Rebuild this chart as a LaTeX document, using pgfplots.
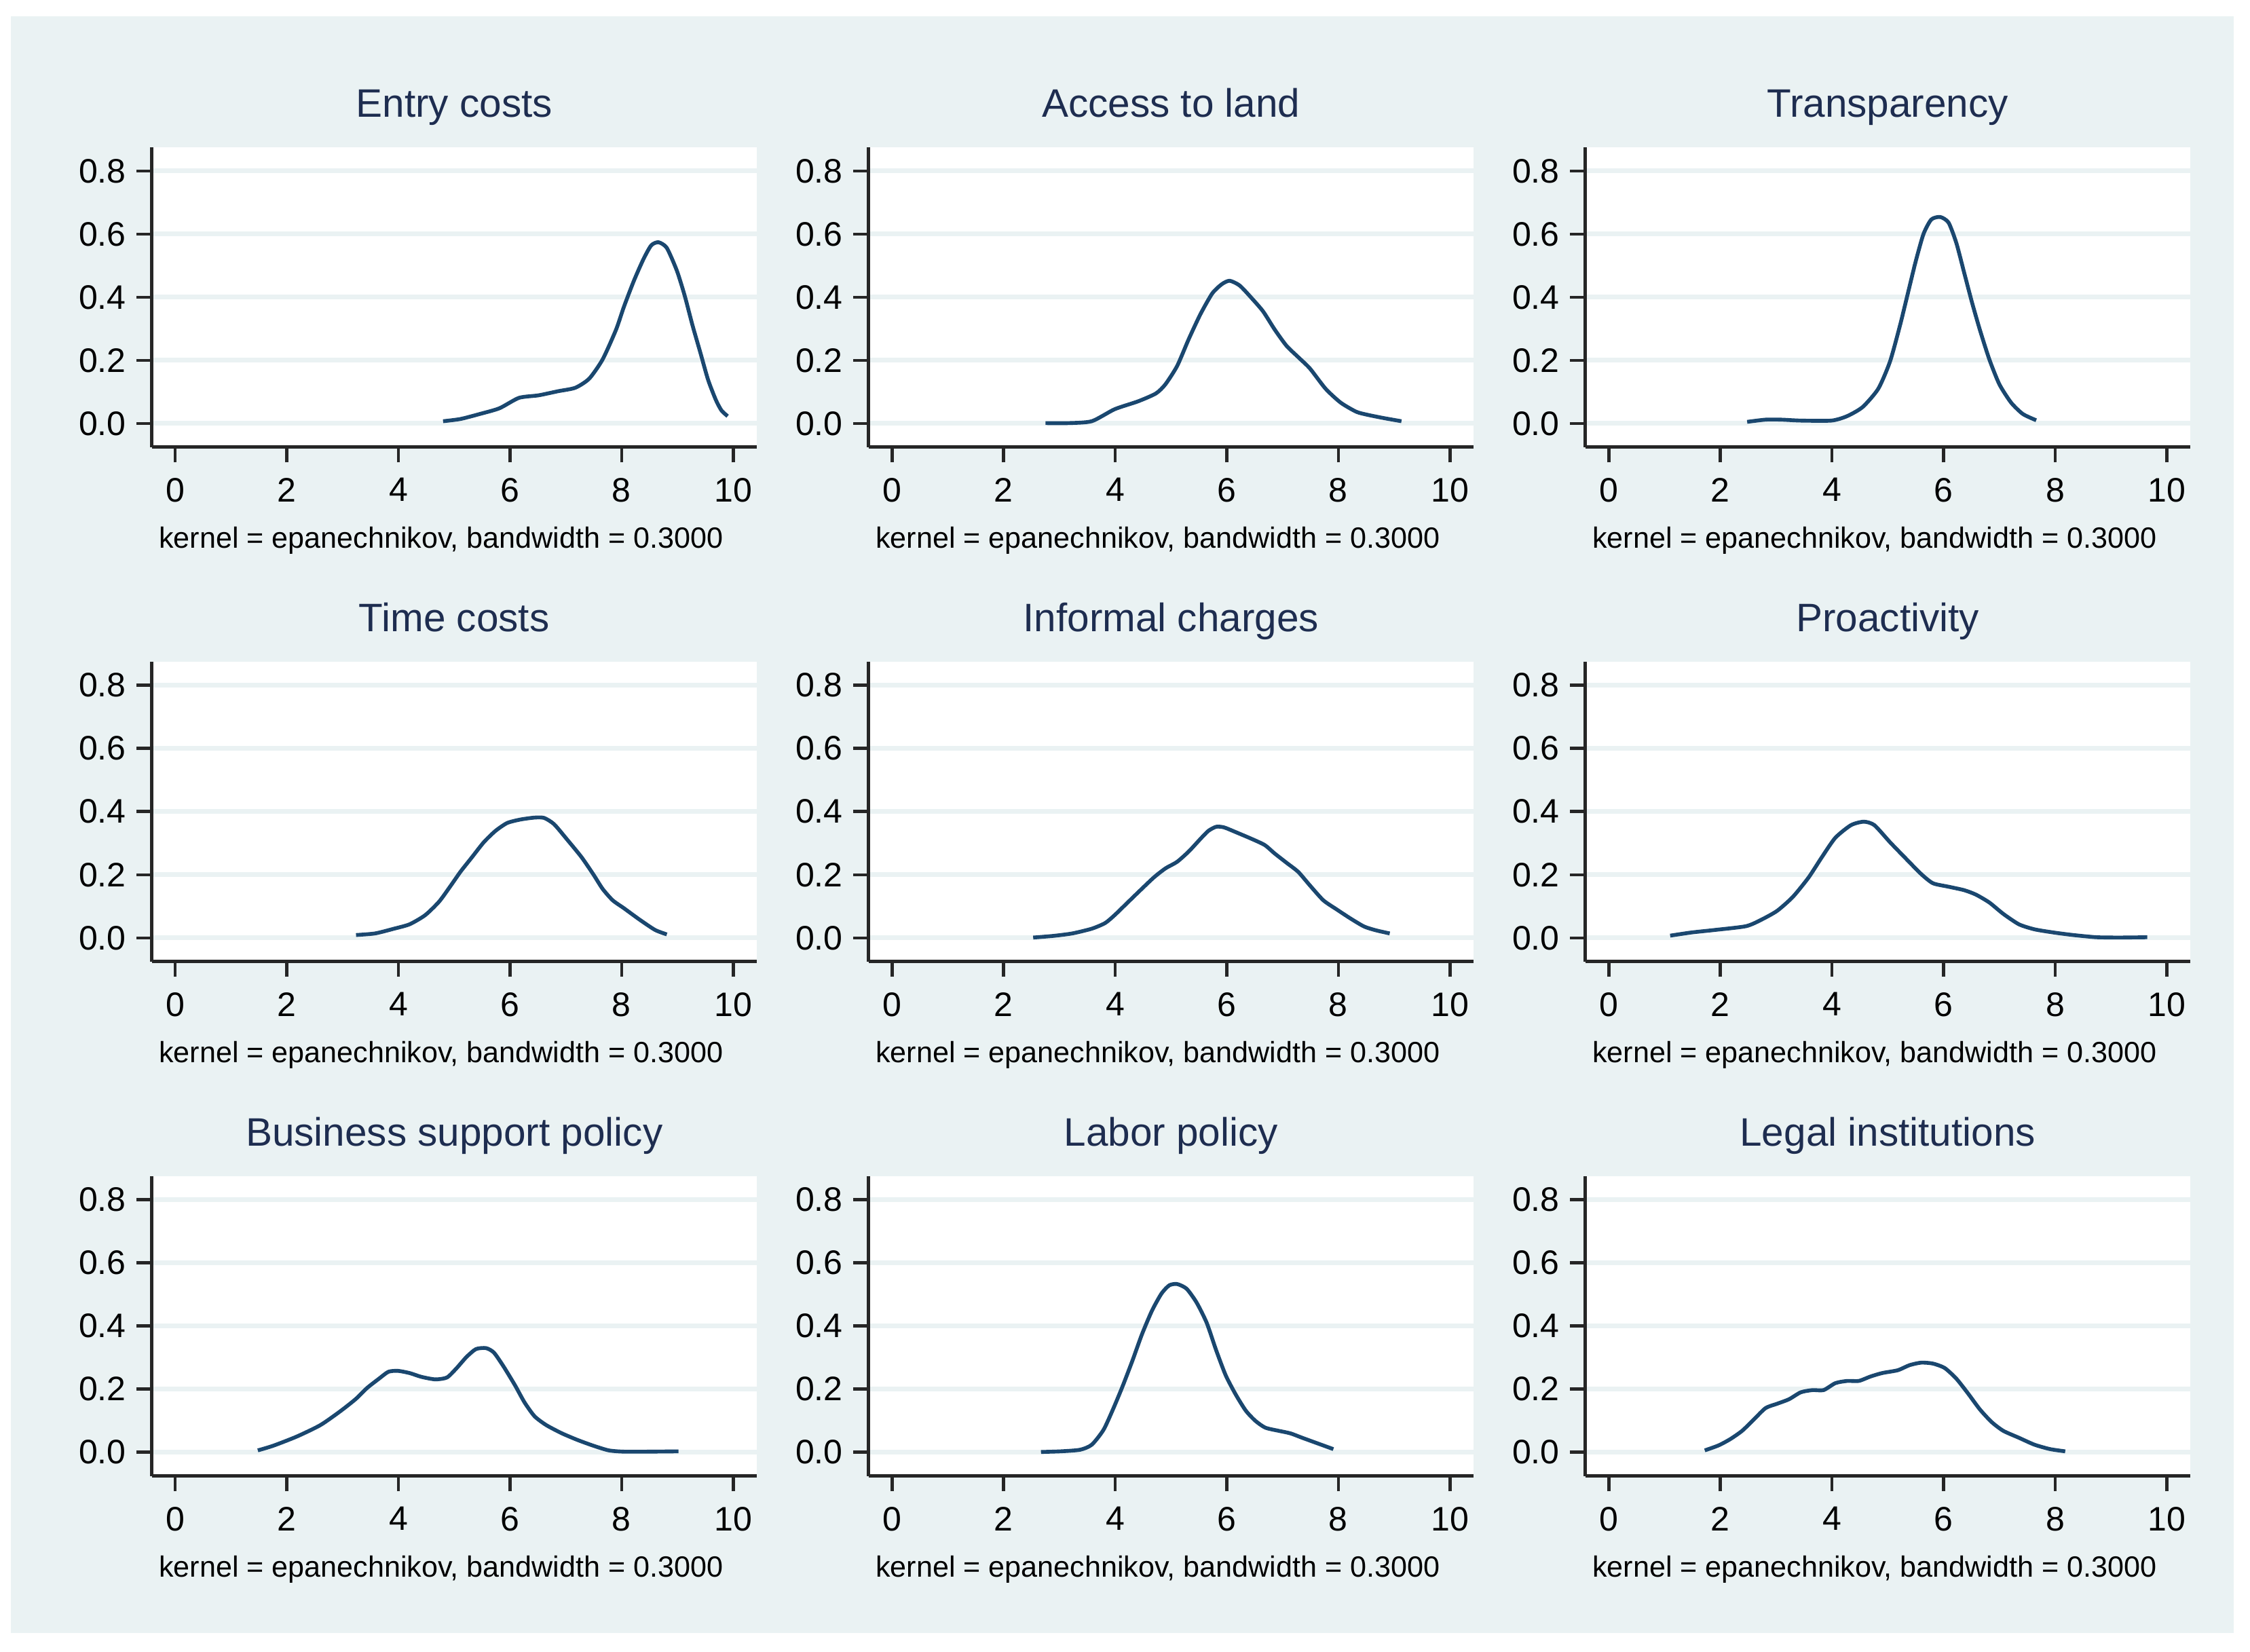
\documentclass[border=0pt]{standalone}
\usepackage{pgfplots}
\pgfplotsset{compat=1.18}
\usepackage{fontspec}
\setmainfont{Liberation Sans}
\definecolor{stbg}{RGB}{234,242,243}
\definecolor{stnavy}{RGB}{26,71,111}
\definecolor{sttitle}{RGB}{30,45,80}
\pgfplotsset{
  kd/.style={
    scale only axis, width=126.45pt, height=62.7pt,
    anchor=south west,
    xmin=-0.42, xmax=10.42, ymin=-0.075, ymax=0.875,
    xtick={0,2,4,6,8,10}, ytick={0,0.2,0.4,0.6,0.8},
    axis x line*=bottom, axis y line*=left,
    axis line style={black!85, line width=0.7pt, -},
    axis background/.style={fill=white},
    tick align=outside, major tick length=3.2pt,
    tick style={black!85, line width=0.65pt},
    ymajorgrids, grid style={stbg, line width=1pt},
    /pgf/number format/assume math mode=true,
    yticklabel={\pgfmathprintnumber[fixed,fixed zerofill,precision=1]{\tick}},
    xticklabel style={anchor=north, inner sep=0pt, font=\fontsize{7.1}{8}\selectfont},
    yticklabel style={anchor=east, inner sep=0pt, font=\fontsize{7.1}{8}\selectfont},
    xticklabel shift=3.1pt, yticklabel shift=2.0pt,
    clip=false,
  },
  kl/.style={stnavy, line width=0.8pt, smooth, tension=0.4, no markers}
}
\newcommand{\ptitle}[3]{\node[anchor=base, inner sep=0pt, text=sttitle, font=\fontsize{8.3}{10}\selectfont] at (#1pt,#2pt) {#3};}
\newcommand{\pnote}[2]{\node[anchor=base west, inner sep=0pt, font=\fontsize{6.12}{7}\selectfont] at (#1pt,#2pt) {kernel = epanechnikov, bandwidth = 0.3000};}
\begin{document}
\begin{tikzpicture}
\path[use as bounding box, fill=white] (0pt,0pt) rectangle (470.4pt,345.3pt);
\fill[stbg] (2.28pt,3.9pt) rectangle (466.95pt,341.85pt);

% Row 1
\begin{axis}[kd, at={(31.74pt,251.82pt)}]
\addplot[kl] coordinates {(4.80,0.007)(5.11,0.014)(5.46,0.030)(5.81,0.048)(6.16,0.081)(6.51,0.089)(6.86,0.102)(7.17,0.113)(7.42,0.142)(7.66,0.203)(7.90,0.297)(8.04,0.369)(8.22,0.452)(8.39,0.520)(8.53,0.564)(8.66,0.574)(8.81,0.556)(8.99,0.484)(9.13,0.405)(9.27,0.311)(9.41,0.225)(9.55,0.138)(9.69,0.074)(9.79,0.041)(9.90,0.023)};
\end{axis}
\begin{axis}[kd, at={(181.59pt,251.82pt)}]
\addplot[kl] coordinates {(2.75,0.001)(3.16,0.001)(3.58,0.007)(3.99,0.045)(4.41,0.070)(4.73,0.095)(4.90,0.124)(5.11,0.182)(5.32,0.268)(5.53,0.347)(5.74,0.412)(5.91,0.441)(6.05,0.452)(6.23,0.437)(6.44,0.398)(6.65,0.355)(6.86,0.297)(7.07,0.246)(7.28,0.210)(7.49,0.174)(7.77,0.110)(8.04,0.066)(8.32,0.037)(8.53,0.027)(8.81,0.017)(9.13,0.007)};
\end{axis}
\begin{axis}[kd, at={(331.44pt,251.82pt)}]
\addplot[kl] coordinates {(2.48,0.005)(2.81,0.012)(3.09,0.012)(3.44,0.009)(3.99,0.009)(4.27,0.023)(4.55,0.052)(4.83,0.110)(5.04,0.196)(5.22,0.311)(5.36,0.412)(5.50,0.513)(5.64,0.600)(5.78,0.646)(5.94,0.654)(6.09,0.636)(6.23,0.571)(6.37,0.477)(6.51,0.383)(6.65,0.297)(6.82,0.203)(7.00,0.124)(7.21,0.066)(7.42,0.030)(7.66,0.010)};
\end{axis}

% Row 2
\begin{axis}[kd, at={(31.74pt,144.27pt)}]
\addplot[kl] coordinates {(3.24,0.009)(3.58,0.014)(3.92,0.029)(4.20,0.043)(4.48,0.072)(4.73,0.115)(4.94,0.166)(5.11,0.209)(5.32,0.256)(5.53,0.303)(5.74,0.339)(5.95,0.364)(6.19,0.375)(6.44,0.381)(6.61,0.380)(6.79,0.360)(7.03,0.310)(7.28,0.256)(7.49,0.202)(7.66,0.155)(7.84,0.119)(8.04,0.094)(8.32,0.058)(8.60,0.025)(8.81,0.011)};
\end{axis}
\begin{axis}[kd, at={(181.59pt,144.27pt)}]
\addplot[kl] coordinates {(2.53,0.001)(2.88,0.006)(3.23,0.014)(3.58,0.029)(3.82,0.047)(3.99,0.072)(4.20,0.108)(4.41,0.144)(4.69,0.191)(4.90,0.220)(5.11,0.241)(5.32,0.274)(5.53,0.314)(5.67,0.339)(5.81,0.352)(5.95,0.350)(6.16,0.335)(6.44,0.314)(6.68,0.294)(6.86,0.267)(7.07,0.238)(7.28,0.209)(7.49,0.166)(7.73,0.119)(7.97,0.090)(8.22,0.061)(8.46,0.036)(8.67,0.024)(8.92,0.014)};
\end{axis}
\begin{axis}[kd, at={(331.44pt,144.27pt)}]
\addplot[kl] coordinates {(1.10,0.007)(1.48,0.017)(1.90,0.025)(2.46,0.037)(2.74,0.058)(3.02,0.086)(3.30,0.130)(3.58,0.191)(3.82,0.256)(4.06,0.317)(4.34,0.357)(4.57,0.368)(4.76,0.357)(5.04,0.303)(5.32,0.252)(5.60,0.202)(5.81,0.173)(6.09,0.162)(6.37,0.151)(6.58,0.137)(6.82,0.112)(7.07,0.076)(7.35,0.043)(7.63,0.027)(7.97,0.017)(8.32,0.009)(8.74,0.002)(9.16,0.001)(9.65,0.002)};
\end{axis}

% Row 3
\begin{axis}[kd, at={(31.74pt,36.72pt)}]
\addplot[kl] coordinates {(1.48,0.006)(1.76,0.021)(2.18,0.050)(2.60,0.086)(2.95,0.129)(3.23,0.168)(3.44,0.204)(3.65,0.233)(3.82,0.255)(3.99,0.258)(4.20,0.251)(4.41,0.239)(4.66,0.231)(4.87,0.237)(5.04,0.266)(5.22,0.302)(5.39,0.327)(5.57,0.330)(5.71,0.316)(5.88,0.273)(6.09,0.212)(6.26,0.158)(6.44,0.114)(6.65,0.086)(6.93,0.060)(7.21,0.039)(7.49,0.021)(7.77,0.006)(8.04,0.002)(8.46,0.002)(9.02,0.003)};
\end{axis}
\begin{axis}[kd, at={(181.59pt,36.72pt)}]
\addplot[kl] coordinates {(2.67,0.001)(3.02,0.003)(3.37,0.008)(3.58,0.024)(3.79,0.071)(3.96,0.136)(4.13,0.208)(4.31,0.291)(4.48,0.374)(4.66,0.449)(4.83,0.503)(4.97,0.529)(5.11,0.533)(5.28,0.518)(5.46,0.474)(5.64,0.410)(5.81,0.323)(5.98,0.244)(6.16,0.183)(6.34,0.132)(6.51,0.100)(6.69,0.078)(6.93,0.068)(7.14,0.060)(7.35,0.046)(7.63,0.028)(7.91,0.010)};
\end{axis}
\begin{axis}[kd, at={(331.44pt,36.72pt)}]
\addplot[kl] coordinates {(1.72,0.006)(1.97,0.022)(2.18,0.042)(2.39,0.068)(2.60,0.104)(2.81,0.140)(3.02,0.154)(3.23,0.168)(3.44,0.190)(3.65,0.197)(3.85,0.197)(4.06,0.219)(4.27,0.226)(4.48,0.226)(4.69,0.240)(4.90,0.251)(5.18,0.260)(5.39,0.276)(5.60,0.284)(5.81,0.281)(6.02,0.267)(6.23,0.233)(6.44,0.186)(6.65,0.136)(6.86,0.096)(7.07,0.068)(7.35,0.046)(7.63,0.024)(7.91,0.010)(8.18,0.003)};
\end{axis}

\ptitle{94.965}{320.85}{Entry costs}
\ptitle{244.815}{320.85}{Access to land}
\ptitle{394.665}{320.85}{Transparency}
\ptitle{94.965}{213.3}{Time costs}
\ptitle{244.815}{213.3}{Informal charges}
\ptitle{394.665}{213.3}{Proactivity}
\ptitle{94.965}{105.75}{Business support policy}
\ptitle{244.815}{105.75}{Labor policy}
\ptitle{394.665}{105.75}{Legal institutions}

\pnote{33.04}{230.7}\pnote{182.89}{230.7}\pnote{332.74}{230.7}
\pnote{33.04}{123.15}\pnote{182.89}{123.15}\pnote{332.74}{123.15}
\pnote{33.04}{15.6}\pnote{182.89}{15.6}\pnote{332.74}{15.6}
\end{tikzpicture}
\end{document}
